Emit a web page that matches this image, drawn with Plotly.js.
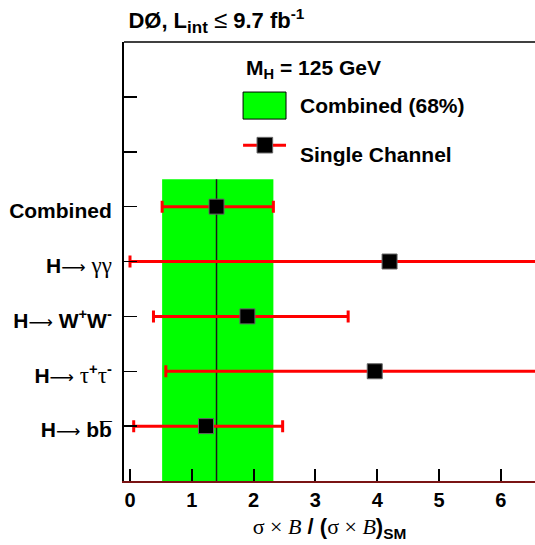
<!DOCTYPE html>
<html>
<head>
<meta charset="utf-8">
<script src="https://cdn.plot.ly/plotly-3.0.1.min.js"></script>
<style>
  html, body { margin: 0; padding: 0; background: #fff; }
  #plot { width: 535px; height: 545px; }
</style>
</head>
<body>
<div id="plot"></div>
<script>
// channels, bottom to top
const channels = ['bb', 'tautau', 'WW', 'gammagamma', 'Combined'];
const channelPos = [1, 2, 3, 4, 5];
const mu = [1.23, 3.96, 1.90, 4.20, 1.40];
const errUp = [1.24, 4.11, 1.63, 4.60, 0.92];
const errDown = [1.17, 3.38, 1.52, 4.20, 0.88];

const serif = (s) => `<span style="font-family:'Liberation Serif';font-weight:normal">${s}</span>`;
const greek = (s) => `<span style="font-family:'Liberation Serif';font-weight:normal;font-size:23px">${s}</span>`;
const arrow = `<span style="font-family:'DejaVu Sans';font-weight:normal;font-size:17px">⟶</span>`;

const yTickVals = [1, 2, 3, 4, 5, 6, 7];
const yTickText = [
    `H${arrow} bb\u0305`,
    `H${arrow} ${greek('τ')}<sup>+</sup>${greek('τ')}<sup>-</sup>`,
    `H${arrow} W<sup>+</sup>W<sup>-</sup>`,
    `H${arrow} ${greek('γγ')}`,
    'Combined',
    '',
    ''
];
const xTickVals = [0, 1, 2, 3, 4, 5, 6];

// combined 68% band
const comb = channels.indexOf('Combined');
const bandLo = mu[comb] - errDown[comb];
const bandHi = mu[comb] + errUp[comb];
const bandTop = 5.5;

const band = {
    x: [bandLo, bandHi, bandHi, bandLo, bandLo],
    y: [0, 0, bandTop, bandTop, 0],
    mode: 'lines',
    fill: 'toself',
    fillcolor: '#00ff00',
    line: { width: 0 },
    hoverinfo: 'skip',
    showlegend: false,
};

const centre = {
    x: [mu[comb], mu[comb]],
    y: [0, bandTop],
    mode: 'lines',
    line: { color: '#1a1a1a', width: 1.5 },
    hoverinfo: 'skip',
    showlegend: false,
};

const points = {
    x: mu,
    y: channelPos,
    mode: 'markers',
    type: 'scatter',
    marker: { symbol: 'square', size: 15, color: '#000', line: { color: '#666', width: 1 } },
    error_x: {
        type: 'data',
        symmetric: false,
        array: errUp,
        arrayminus: errDown,
        color: '#ff0000',
        thickness: 3,
        width: 6,
    },
    showlegend: false,
};

const font = { family: 'Liberation Sans', size: 21, color: '#000', weight: 'bold' };

const layout = {
    width: 535,
    height: 545,
    margin: { l: 124, r: 0, t: 42, b: 64 },
    paper_bgcolor: '#fff',
    plot_bgcolor: '#fff',
    showlegend: false,
    font: font,
    title: {
        text: 'DØ, L<sub><span style="font-size:17px">int</span></sub> <span style="font-weight:normal;font-size:24px">≤</span> 9.7 fb<sup>-1</sup>',
        font: { family: 'Liberation Sans', size: 22, color: '#000', weight: 'bold' },
        xref: 'container',
        yref: 'container',
        x: 0.24,
        xanchor: 'left',
        y: 0.962,
        yanchor: 'middle',
    },
    xaxis: {
        range: [-0.097, 6.553],
        tickvals: xTickVals,
        ticks: 'inside',
        ticklen: 12,
        tickwidth: 2,
        tickcolor: '#000',
        tickfont: { family: 'Liberation Sans', size: 20, color: '#000', weight: 'bold' },
        showline: true,
        linecolor: '#7a1414',
        linewidth: 2,
        showgrid: false,
        zeroline: false,
        title: {
            text: `${serif('σ × <i>B</i>')} / (${serif('σ × <i>B</i>')})<sub>SM</sub>`,
            font: { family: 'Liberation Sans', size: 22, color: '#000', weight: 'bold' },
            standoff: 9,
        },
    },
    yaxis: {
        range: [0, 8],
        tickvals: yTickVals,
        ticktext: yTickText,
        ticks: 'inside',
        ticklen: 13,
        tickwidth: 1.5,
        tickcolor: '#000',
        tickfont: font,
        ticklabelstandoff: 6,
        ticklabelshift: 4,
        showline: true,
        linecolor: '#000',
        linewidth: 2,
        showgrid: false,
        zeroline: false,
    },
    shapes: [
        // top frame
        { type: 'line', xref: 'paper', yref: 'paper', x0: 0, x1: 1, y0: 1, y1: 1, line: { color: '#000', width: 1.5 } },
        // legend keys
        { type: 'rect', xref: 'paper', yref: 'paper', x0: 0.2897, x1: 0.3942, y0: 0.8244, y1: 0.886,
          fillcolor: '#00ff00', line: { color: '#000', width: 1 } },
        { type: 'line', xref: 'paper', yref: 'paper', x0: 0.2897, x1: 0.3942, y0: 0.765, y1: 0.765,
          line: { color: '#ff0000', width: 3 } },
        { type: 'rect', xref: 'paper', yref: 'paper', x0: 0.3237, x1: 0.3617, y0: 0.7472, y1: 0.7828,
          fillcolor: '#000', line: { color: '#666', width: 1 } },
    ],
    annotations: [
        { text: 'M<sub>H</sub> = 125 GeV', xref: 'paper', yref: 'paper', x: 0.2911, y: 0.938,
          xanchor: 'left', yanchor: 'middle', showarrow: false, font: font },
        { text: 'Combined (68%)', xref: 'paper', yref: 'paper', x: 0.4231, y: 0.855,
          xanchor: 'left', yanchor: 'middle', showarrow: false, font: font },
        { text: 'Single Channel', xref: 'paper', yref: 'paper', x: 0.4231, y: 0.7445,
          xanchor: 'left', yanchor: 'middle', showarrow: false, font: font },
    ],
};

Plotly.newPlot('plot', [band, centre, points], layout, { displayModeBar: false, staticPlot: true });
</script>
</body>
</html>
